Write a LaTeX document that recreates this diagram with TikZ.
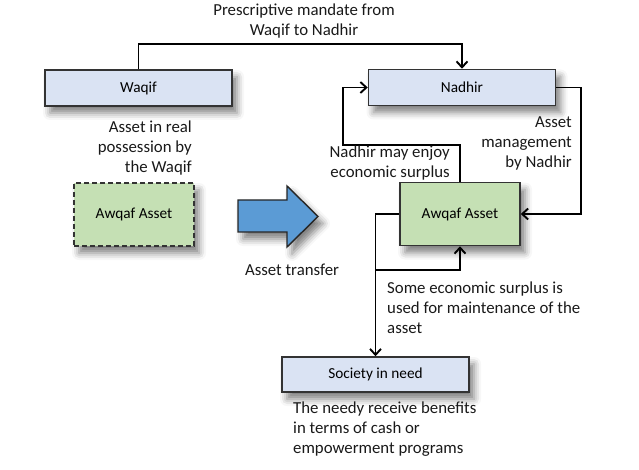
\documentclass[tikz,border=0pt]{standalone}
\usepackage{fontspec}
\setmainfont{Carlito}
\usetikzlibrary{arrows.meta,positioning,shadows.blur}
\definecolor{boxblue}{HTML}{DAE3F3}
\definecolor{boxgreen}{HTML}{C5E0B4}
\definecolor{arrowblue}{HTML}{5B9BD5}

\begin{document}
\begin{tikzpicture}[x=1pt, y=-1pt, >={Straight Barb[length=6pt,width=11pt]},
    softshadow/.style={blur shadow={shadow xshift=5pt, shadow yshift=-7pt, shadow blur radius=7pt, shadow opacity=50}},
    party/.style={rectangle, draw=black!80, line width=1.5pt, fill=boxblue, minimum width=187pt, minimum height=36pt, font=\fontsize{15.3}{18}\selectfont, softshadow},
    asset/.style={rectangle, draw=black!80, line width=1.5pt, fill=boxgreen, minimum width=120pt, minimum height=63pt, font=\fontsize{15.3}{18}\selectfont, softshadow},
    note/.style={font=\fontsize{16.8}{20}\selectfont, inner sep=0pt, text=black!90},
    link/.style={->, line width=1.9pt}]
    \useasboundingbox (0,0) rectangle (639,470);

    % Left side: Waqif
    \node[party] (waqif) at (138.5,88) {Waqif};
    \node[asset, dash pattern=on 5pt off 3pt] (wasset) at (134,214.5) {Awqaf Asset};
    \node[note, anchor=east, align=right] (possnote) at (192,148) {Asset in real\\possession by\\the Waqif};

    % Middle: transfer
    \path[fill=arrowblue, draw=black!85, line width=1.4pt, softshadow] (238,200) -- (287,200) -- (287,186) -- (318,216.5) -- (287,247) -- (287,232) -- (238,232) -- cycle;
    \node[note] (transfer) at (292,270) {Asset transfer};

    % Right side: Nadhir
    \node[party] (nadhir) at (462,87.5) {Nadhir};
    \node[asset] (nasset) at (460,214) {Awqaf Asset};
    \node[party, minimum height=35pt] (society) at (375.5,374.5) {Society in need};

    % Connectors
    \draw[link] (waqif.north) -- ++(0,-25) -| (nadhir.north);
    \node[note, align=center] (mandate) at (304,21) {Prescriptive mandate from\\Waqif to Nadhir};
    \draw[link] (nadhir.east) -- ++(25,0) |- (nasset.east);
    \node[note, anchor=east, align=right] (mgmtnote) at (572,143) {Asset\\management\\by Nadhir};
    \coordinate (loop) at (343,145);
    \draw[link] (nasset.north) |- (loop) |- (nadhir.west);
    \node[note, anchor=east, align=right] (enjoynote) at (450,163) {Nadhir may enjoy\\economic surplus};
    \draw[link] (nasset.west) -| (society.north);
    \coordinate (split) at (society.north |- 0,270);
    \draw[link] (split) -| (nasset.south);
    \node[note, anchor=west, align=left] (maintnote) at (387,308) {Some economic surplus is\\used for maintenance of the\\asset};
    \node[note, anchor=west, align=left] (needynote) at (293,429) {The needy receive benefits\\in terms of cash or\\empowerment programs};
\end{tikzpicture}
\end{document}
